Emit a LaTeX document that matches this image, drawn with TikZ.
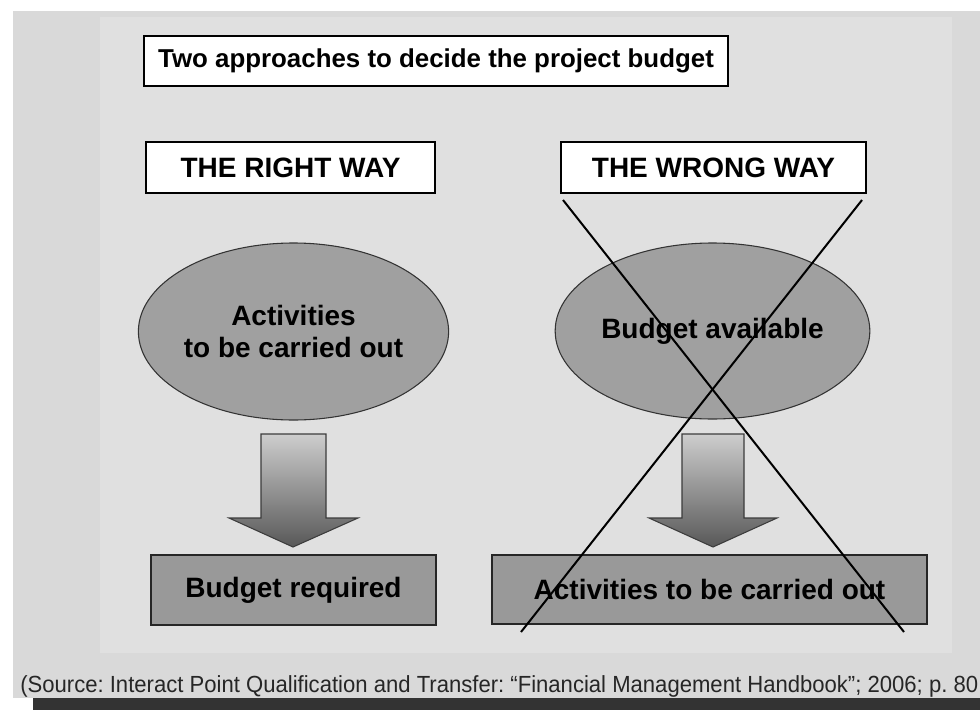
\documentclass[tikz,border=0pt]{standalone}
\usepackage{fontspec}
\usepackage{graphicx}
\setmainfont{Liberation Sans}
\usetikzlibrary{shapes.geometric}
\definecolor{outergray}{RGB}{217,217,217}
\definecolor{innergray}{RGB}{224,224,224}
\definecolor{ellfill}{RGB}{160,160,160}
\definecolor{boxfill}{RGB}{153,153,153}
\definecolor{darkband}{RGB}{51,51,51}
\definecolor{arrowtop}{RGB}{205,205,205}
\definecolor{arrowbot}{RGB}{88,88,88}
\definecolor{arrowline}{RGB}{60,60,60}
\frenchspacing
\begin{document}
\begin{tikzpicture}[x=0.75pt,y=-0.75pt,
  whitebox/.style={draw=black, line width=1.1pt, fill=white, inner sep=0pt,
    font=\fontsize{21}{25}\selectfont\bfseries},
  grayellipse/.style={ellipse, draw=black!80, line width=0.8pt, fill=ellfill, inner sep=0pt,
    align=center, font=\fontsize{21}{24.3}\selectfont\bfseries},
  graybox/.style={draw=black!85, line width=1.1pt, fill=boxfill, inner sep=0pt,
    font=\fontsize{21}{25}\selectfont\bfseries},
  blockarrow/.style={top color=arrowtop, bottom color=arrowbot, draw=arrowline, line width=0.8pt},
  crossline/.style={draw=black, line width=1.5pt}]
\useasboundingbox (0,0) rectangle (980,710);
\fill[white] (0,0) rectangle (980,710);
\fill[outergray] (13,11) rectangle (980,698);
\fill[innergray] (100,17) rectangle (952,653);
\fill[darkband] (33,698) rectangle (980,710);

% title
\node[whitebox, minimum width=438pt, minimum height=37.5pt,
  font=\fontsize{19.4}{23}\selectfont\bfseries] (title) at (436,61)
  {Two approaches to decide the project budget};

% headers
\node[whitebox, minimum width=216.75pt, minimum height=38.25pt] (right) at (290.5,167.5) {THE RIGHT WAY};
\node[whitebox, minimum width=228.75pt, minimum height=38.25pt] (wrong) at (713.5,167.5) {THE WRONG WAY};

% ellipses
\node[grayellipse, minimum width=225pt, minimum height=132.75pt] (actL) at (293.5,331.5)
  {Activities\\to be carried out};
\node[grayellipse, minimum width=224.25pt, minimum height=132pt] (budR) at (712.5,331)
  {Budget available};

% block arrows
\shade[blockarrow] (261,434) -- (326,434) -- (326,518) -- (358,518) -- (293,547)
  -- (229,518) -- (261,518) -- cycle;
\shade[blockarrow] (682,434) -- (744,434) -- (744,518) -- (777,518) -- (713,547)
  -- (649,518) -- (682,518) -- cycle;

% bottom boxes
\node[graybox, minimum width=213.75pt, minimum height=52.5pt] (budL) at (293.5,590) {Budget required};
\node[graybox, minimum width=326.25pt, minimum height=51.75pt] (actR) at (709.5,589.5) {Activities to be carried out};

% cross over the wrong way
\coordinate (c1) at (563,200);
\coordinate (c2) at (904,632);
\coordinate (c3) at (862,200);
\coordinate (c4) at (521,632);
\draw[crossline] (c1) -- (c2);
\draw[crossline] (c3) -- (c4);

% source
\node[anchor=base west, inner sep=0pt, text=black!85] (src) at (20,692)
  {\resizebox{718.5pt}{\height}{\fontsize{17.5}{19}\selectfont (Source: Interact Point Qualification and Transfer: “Financial Management Handbook”; 2006; p. 80}};
\end{tikzpicture}
\end{document}
